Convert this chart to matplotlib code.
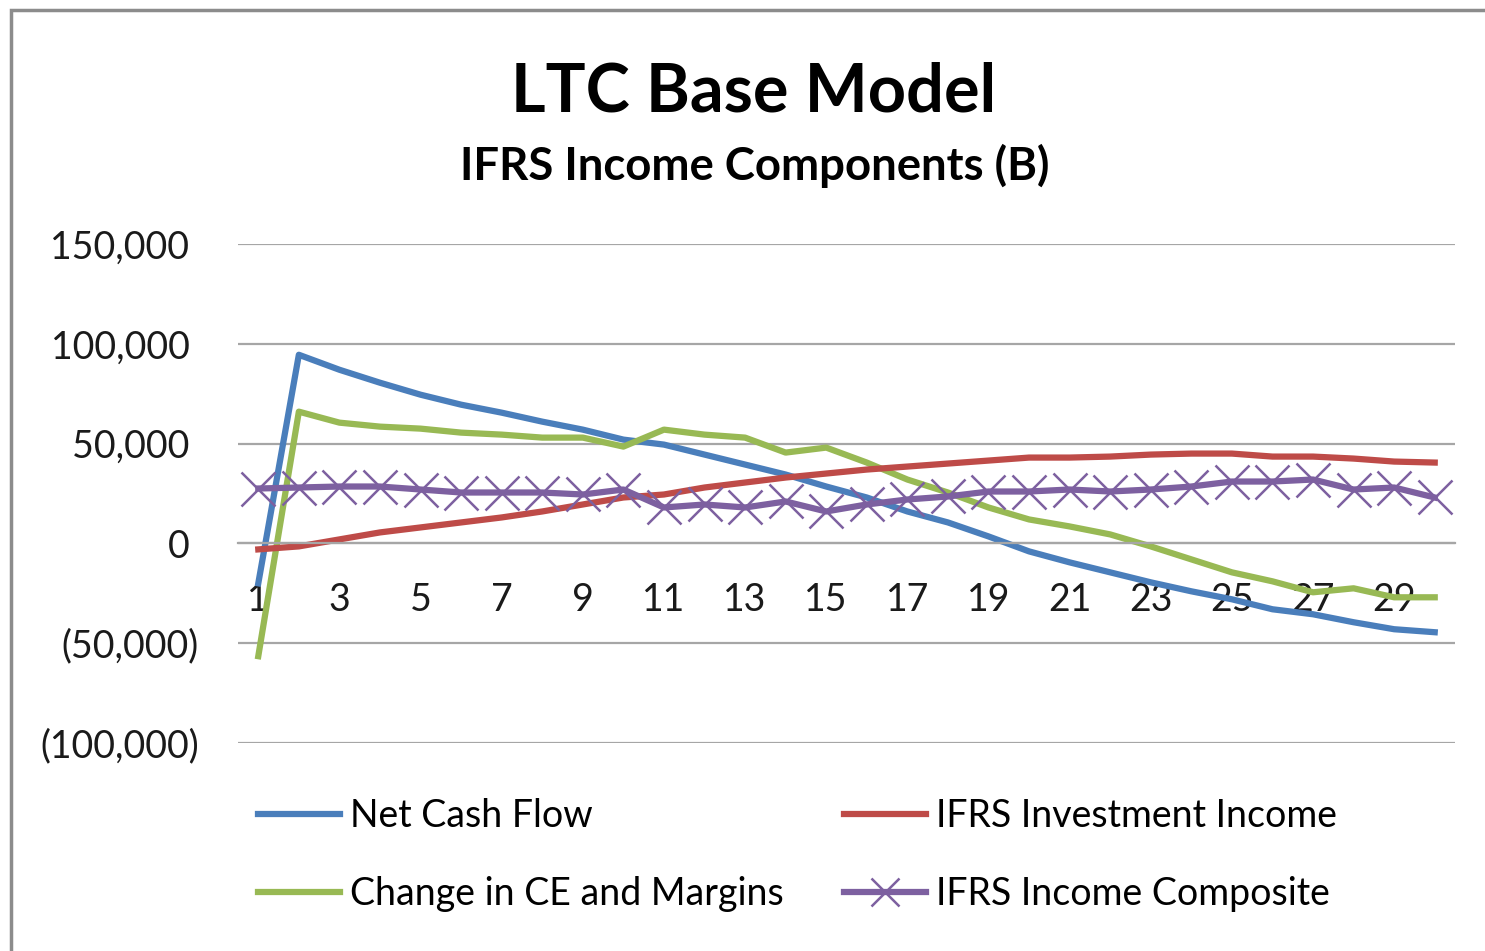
import matplotlib
matplotlib.use("Agg")
import matplotlib.pyplot as plt
from matplotlib.patches import Rectangle

# Projection years
periods = list(range(1, 31))

# Series values
net_cash_flow = [-20000, 94500, 87000, 80500, 74500, 69500, 65500, 61000, 57000, 52000,
                 49500, 44500, 39500, 34500, 28500, 23000, 16000, 10500, 3500, -4000,
                 -9500, -14500, -19500, -24000, -28000, -33000, -35500, -39500, -43000, -44500]
change_ce_margins = [-56500, 66000, 60500, 58500, 57500, 55500, 54500, 53000, 53000, 48500,
                     57000, 54500, 53000, 45500, 48000, 40500, 32000, 25500, 18000, 12000,
                     8500, 4500, -1500, -8000, -14500, -19000, -24500, -22500, -27000, -27000]
ifrs_investment_income = [-3000, -1500, 2000, 5500, 8000, 10500, 13000, 16000, 19500, 23000,
                          24500, 28000, 30500, 33000, 35000, 37000, 38500, 40000, 41500, 43000,
                          43000, 43500, 44500, 45000, 45000, 43500, 43500, 42500, 41000, 40500]
ifrs_income_composite = [27500, 28000, 28500, 28500, 27000, 25500, 25500, 25500, 24500, 27000,
                         18000, 19500, 18000, 21000, 16000, 19500, 22000, 23500, 26000, 26000,
                         27000, 26000, 27000, 28500, 31000, 31000, 32000, 27000, 28000, 23000]

y_ticks = [-100000, -50000, 0, 50000, 100000, 150000]
x_ticks = periods[::2]

# Excel 2007 default line colours
BLUE = "#4A7EBB"
RED = "#BE4B48"
GREEN = "#98B954"
PURPLE = "#7D60A0"
GRID = "#A6A6A6"

plt.rcParams["font.family"] = ["Lato", "DejaVu Sans"]


def fmt_accounting(v):
    """Excel accounting style: negatives in parentheses."""
    if v < 0:
        return f"({abs(v):,})"
    return f"{v:,} "


fig = plt.figure(figsize=(14.85, 9.51), dpi=100)
fig.patch.set_facecolor("white")

# grey frame of the chart area (cut off at right and bottom)
fig.add_artist(Rectangle((11 / 1485, -0.1), 1.2, (951 - 10) / 951 + 0.1,
                         transform=fig.transFigure, fill=False,
                         edgecolor="#8C8C8C", linewidth=2.5))

ax = fig.add_axes([238 / 1485, 1 - 743 / 951, (1455 - 238) / 1485, (743 - 244) / 951])

ax.plot(periods, net_cash_flow, color=BLUE, linewidth=4.5, label="Net Cash Flow",
        solid_joinstyle="round")
ax.plot(periods, change_ce_margins, color=GREEN, linewidth=4.5,
        label="Change in CE and Margins", solid_joinstyle="round")
ax.plot(periods, ifrs_investment_income, color=RED, linewidth=4.5,
        label="IFRS Investment Income", solid_joinstyle="round")
ax.plot(periods, ifrs_income_composite, color=PURPLE, linewidth=4.5, marker="x",
        markersize=24, markeredgewidth=1.8, label="IFRS Income Composite",
        solid_joinstyle="round")

ax.set_xlim(0.5, 30.5)
ax.set_ylim(-100000, 150000)

ax.set_yticks(y_ticks)
ax.set_yticklabels([fmt_accounting(v) for v in y_ticks])
ax.set_xticks(x_ticks)
ax.set_xticklabels([str(v) for v in x_ticks])

ax.tick_params(axis="both", length=0, labelsize=27, labelcolor="#1A1A1A")
ax.tick_params(axis="y", pad=28)
ax.tick_params(axis="x", pad=28)

ax.yaxis.grid(True, color=GRID, linewidth=1.6)
ax.set_axisbelow(True)
for side in ("top", "right", "left"):
    ax.spines[side].set_visible(False)
ax.spines["bottom"].set_position(("data", 0))
ax.spines["bottom"].set_color(GRID)
ax.spines["bottom"].set_linewidth(1.6)

fig.text(754 / 1485, 1 - 92 / 951, "LTC Base Model", ha="center", va="center",
         fontsize=48, fontweight="bold", color="black")
fig.text(755 / 1485, 1 - 166 / 951, "IFRS Income Components (B)", ha="center",
         va="center", fontsize=32.8, fontweight="bold", color="black")

handles, labels = ax.get_legend_handles_labels()
leg = fig.legend(handles, labels, loc="upper left", ncol=2,
                 bbox_to_anchor=(258 / 1485, 1 - 798 / 951),
                 bbox_transform=fig.transFigure, frameon=False,
                 fontsize=27, handlelength=2.19, handletextpad=0.27,
                 columnspacing=1.6, labelspacing=1.12, borderpad=0, borderaxespad=0)
for line in leg.get_lines():
    if line.get_marker() == "x":
        line.set_markersize(20)

fig.savefig("out.png", dpi=100, facecolor="white")
